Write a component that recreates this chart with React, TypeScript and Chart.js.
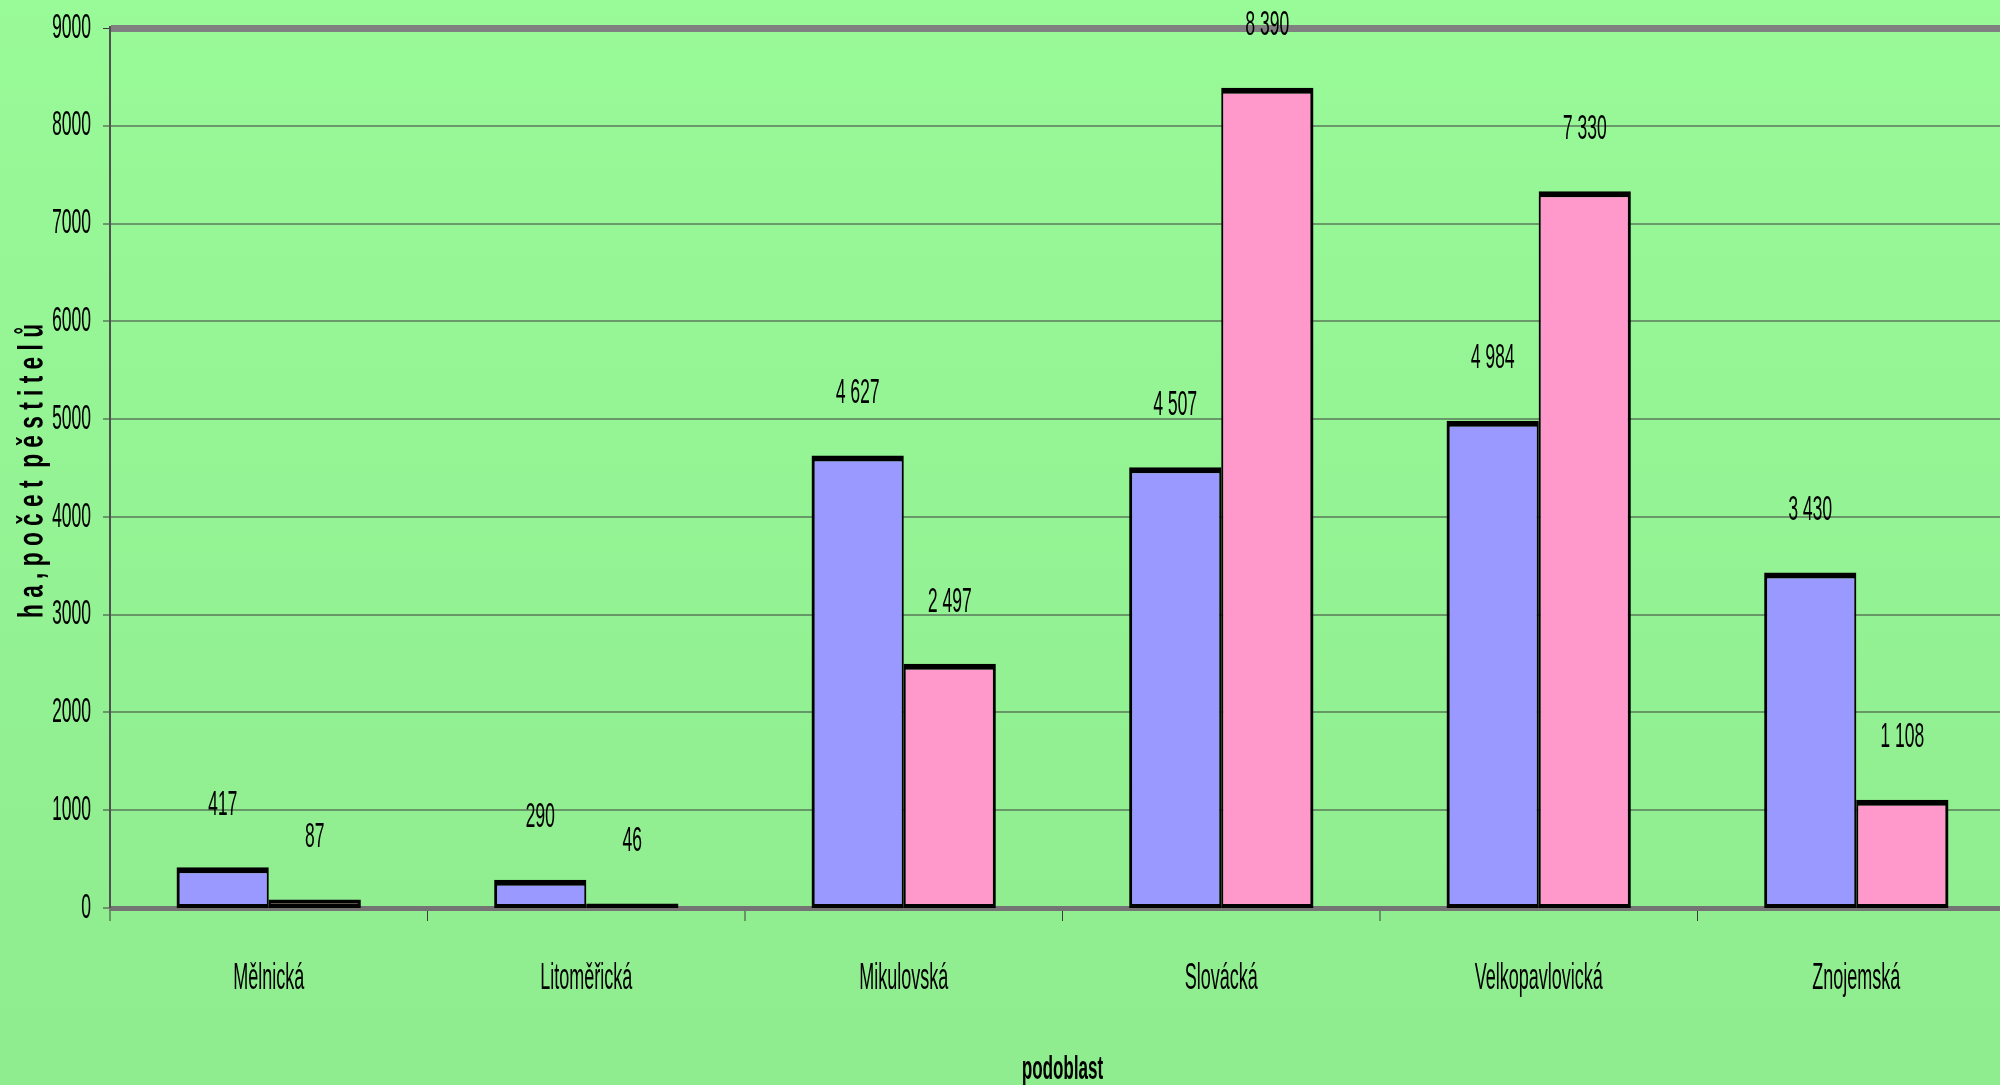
import React, { useEffect, useRef } from 'react';
import { Chart, registerables } from 'chart.js';

Chart.register(...registerables);

// ---- data ----
const categories = ['Mělnická', 'Litoměřická', 'Mikulovská', 'Slovácká', 'Velkopavlovická', 'Znojemská'];
const seriesNames = ['ha', 'počet pěstitelů'];
const seriesHa = [417, 290, 4627, 4507, 4984, 3430];
const seriesGrowers = [87, 46, 2497, 8390, 7330, 1108];
const yMin = 0;
const yMax = 9000;
const yStep = 1000;
const yAxisTitle = 'h a , p o č e t  p ě s t i t e l ů';
const xAxisTitle = 'podoblast';

const FONT = '"Liberation Sans", Arial, sans-serif';
const CANVAS_W = 2020;
const CANVAS_H = 546;

const fmt = (v: number) => String(v).replace(/\B(?=(\d{3})+(?!\d))/g, ' ');

const backgroundPlugin = {
  id: 'bg',
  beforeDraw(chart: any) {
    const { ctx, width, height } = chart;
    ctx.save();
    const g = ctx.createLinearGradient(0, 0, 0, height);
    g.addColorStop(0, '#99FA98');
    g.addColorStop(1, '#8FEC8F');
    ctx.fillStyle = g;
    ctx.fillRect(0, 0, width, height);
    ctx.restore();
  },
};

const valueLabelPlugin = {
  id: 'valueLabels',
  afterDatasetsDraw(chart: any) {
    const ctx = chart.ctx;
    ctx.save();
    ctx.font = `17.5px ${FONT}`;
    ctx.fillStyle = '#000';
    ctx.textAlign = 'center';
    ctx.textBaseline = 'middle';
    chart.data.datasets.forEach((ds: any, i: number) => {
      const meta = chart.getDatasetMeta(i);
      meta.data.forEach((bar: any, j: number) => {
        ctx.fillText(fmt(ds.data[j]), bar.x, bar.y - 31);
      });
    });
    ctx.restore();
  },
};

const yTitlePlugin = {
  id: 'yTitle',
  afterDraw(chart: any) {
    const ctx = chart.ctx;
    ctx.save();
    ctx.font = `bold 35px ${FONT}`;
    ctx.fillStyle = '#000';
    ctx.textAlign = 'center';
    ctx.textBaseline = 'alphabetic';
    const w = ctx.measureText(yAxisTitle).width;
    const targetLen = 147; // along the reading direction, in canvas units
    ctx.translate(42.7, 235.5);
    ctx.rotate(-Math.PI / 2);
    ctx.scale(targetLen / w, 1);
    ctx.fillText(yAxisTitle, 0, 0);
    ctx.restore();
  },
};

export default function App() {
  const canvasRef = useRef<HTMLCanvasElement | null>(null);

  useEffect(() => {
    document.body.style.margin = '0';
    document.body.style.overflow = 'hidden';
    const canvas = canvasRef.current;
    if (!canvas) return;
    const chart = new Chart(canvas, {
      type: 'bar',
      data: {
        labels: categories,
        datasets: [
          {
            label: seriesNames[0],
            data: seriesHa,
            backgroundColor: '#9999FF',
            borderColor: '#000000',
            borderWidth: { top: 3, left: 3, right: 2, bottom: 2 },
            borderSkipped: false,
            categoryPercentage: 0.58,
            barPercentage: 1.0,
          },
          {
            label: seriesNames[1],
            data: seriesGrowers,
            backgroundColor: '#FF99CC',
            borderColor: '#000000',
            borderWidth: { top: 3, left: 2, right: 3, bottom: 2 },
            borderSkipped: false,
            categoryPercentage: 0.58,
            barPercentage: 1.0,
          },
        ],
      },
      options: {
        responsive: false,
        animation: false,
        devicePixelRatio: 2,
        layout: { padding: { top: 14, right: 5, bottom: 0, left: 0 } },
        plugins: {
          legend: { display: false },
          tooltip: { enabled: false },
        },
        scales: {
          x: {
            afterFit: (scale: any) => {
              scale.height = 92;
              scale.paddingLeft = 0;
              scale.paddingRight = 0;
            },
            grid: {
              display: true,
              drawOnChartArea: false,
              drawTicks: true,
              tickLength: 6.5,
              color: '#3c3c3c',
              lineWidth: 1,
              offset: true,
            },
            border: { display: true, color: '#747474', width: 2.5 },
            ticks: {
              color: '#000',
              font: { family: FONT, size: 18 },
              padding: 18,
              autoSkip: false,
              maxRotation: 0,
            },
            title: {
              display: true,
              text: xAxisTitle,
              color: '#000',
              font: { family: FONT, size: 17, weight: 'bold', lineHeight: 1.2 },
              padding: { top: 0, bottom: 1 },
            },
          },
          y: {
            min: yMin,
            max: yMax,
            afterFit: (scale: any) => {
              scale.width = 110;
              scale.paddingTop = 0;
              scale.paddingBottom = 0;
            },
            grid: {
              color: (c: any) => (c.tick && c.tick.value === yMax ? '#808080' : '#3c3c3c'),
              lineWidth: (c: any) =>
                c.tick && c.tick.value === yMax ? 3.5 : c.tick && c.tick.value === yMin ? 0 : 0.5,
              tickColor: '#3c3c3c',
              tickWidth: 0.5,
              tickLength: 7,
            },
            border: { display: true, color: '#505050', width: 2 },
            ticks: {
              stepSize: yStep,
              color: '#000',
              font: { family: FONT, size: 17.5 },
              padding: 12,
              callback: (v: any) => String(v),
            },
          },
        },
      },
      plugins: [backgroundPlugin, valueLabelPlugin, yTitlePlugin],
    } as any);
    return () => chart.destroy();
  }, []);

  return (
    <div style={{ width: 2000, height: 1085, overflow: 'hidden', position: 'relative' }}>
      <div
        style={{
          width: CANVAS_W,
          height: CANVAS_H,
          transform: 'scaleY(2)',
          transformOrigin: '0 0',
        }}
      >
        <canvas ref={canvasRef} width={CANVAS_W} height={CANVAS_H} style={{ display: 'block' }} />
      </div>
    </div>
  );
}
